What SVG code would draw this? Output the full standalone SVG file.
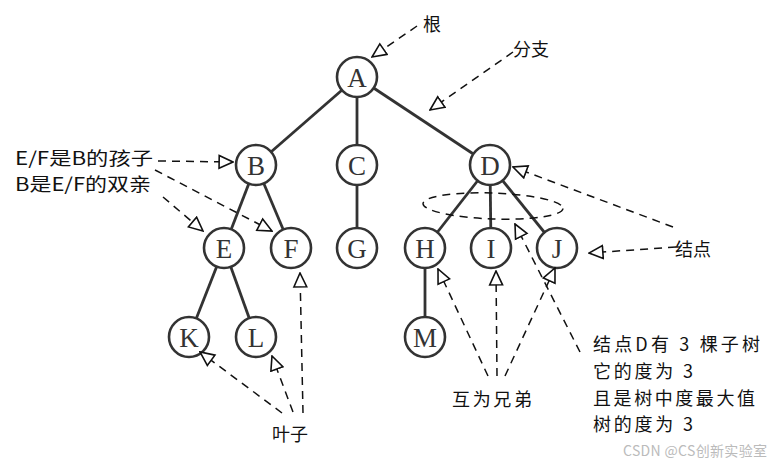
<svg xmlns="http://www.w3.org/2000/svg" width="775" height="463" viewBox="0 0 775 463">
<style>
.edge{stroke:#333;stroke-width:2.8;fill:none}
.node circle{fill:#fff;stroke:#333;stroke-width:2.6}
.node text{font-family:"Liberation Serif","DejaVu Serif",serif;font-size:27px;fill:#333;text-anchor:middle;dominant-baseline:central}
.dash{stroke:#111;stroke-width:1.5;stroke-dasharray:8 6;fill:none;marker-end:url(#tri)}
.lbl{font-family:"Noto Sans CJK SC","Noto Sans",sans-serif;font-size:18px;fill:#111;dominant-baseline:central}
.wm{font-family:"Noto Sans CJK SC","Noto Sans",sans-serif;font-size:14px;fill:#bbb;dominant-baseline:central}
</style>
<defs>
<marker id="tri" markerUnits="userSpaceOnUse" markerWidth="16" markerHeight="16" refX="13" refY="6" orient="auto" viewBox="-1 -1 15 14">
<path d="M0,0 L13,6 L0,12 Z" fill="#fff" stroke="#111" stroke-width="1.5" stroke-linejoin="miter"/>
</marker>
</defs>
<rect width="775" height="463" fill="#fff"/>
<g id="edges">
<line class="edge" x1="357" y1="77" x2="256" y2="165"/>
<line class="edge" x1="357" y1="77" x2="357" y2="165"/>
<line class="edge" x1="357" y1="77" x2="490" y2="165"/>
<line class="edge" x1="256" y1="165" x2="224" y2="248"/>
<line class="edge" x1="256" y1="165" x2="291" y2="248"/>
<line class="edge" x1="357" y1="165" x2="357" y2="248"/>
<line class="edge" x1="490" y1="165" x2="425" y2="248"/>
<line class="edge" x1="490" y1="165" x2="491" y2="248"/>
<line class="edge" x1="490" y1="165" x2="557" y2="248"/>
<line class="edge" x1="224" y1="248" x2="189" y2="337"/>
<line class="edge" x1="224" y1="248" x2="256" y2="337"/>
<line class="edge" x1="425" y1="248" x2="425" y2="337"/>
</g>
<g id="node-A" class="node"><circle cx="357" cy="77" r="20"/><text x="357" y="78">A</text></g>
<g id="node-B" class="node"><circle cx="256" cy="165" r="20"/><text x="256" y="166">B</text></g>
<g id="node-C" class="node"><circle cx="357" cy="165" r="20"/><text x="357" y="166">C</text></g>
<g id="node-D" class="node"><circle cx="490" cy="165" r="20"/><text x="490" y="166">D</text></g>
<g id="node-E" class="node"><circle cx="224" cy="248" r="20"/><text x="224" y="249">E</text></g>
<g id="node-F" class="node"><circle cx="291" cy="248" r="20"/><text x="291" y="249">F</text></g>
<g id="node-G" class="node"><circle cx="357" cy="248" r="20"/><text x="357" y="249">G</text></g>
<g id="node-H" class="node"><circle cx="425" cy="248" r="20"/><text x="425" y="249">H</text></g>
<g id="node-I" class="node"><circle cx="491" cy="248" r="20"/><text x="491" y="249">I</text></g>
<g id="node-J" class="node"><circle cx="557" cy="248" r="20"/><text x="557" y="249">J</text></g>
<g id="node-K" class="node"><circle cx="189" cy="337" r="20"/><text x="189" y="338">K</text></g>
<g id="node-L" class="node"><circle cx="256" cy="337" r="20"/><text x="256" y="338">L</text></g>
<g id="node-M" class="node"><circle cx="425" cy="337" r="20"/><text x="425" y="338">M</text></g>
<g id="annotations">
<ellipse cx="493" cy="206" rx="70" ry="13" fill="none" stroke="#111" stroke-width="1.5" stroke-dasharray="8 6" transform="rotate(2 493 206)"/>
<line class="dash" x1="417" y1="26" x2="372" y2="57"/>
<line class="dash" x1="513" y1="52" x2="430" y2="110"/>
<line class="dash" x1="158" y1="161" x2="233" y2="162"/>
<line class="dash" x1="163" y1="197" x2="203" y2="231"/>
<line class="dash" x1="155" y1="170" x2="272" y2="231"/>
<line class="dash" x1="673" y1="227" x2="513" y2="167"/>
<line class="dash" x1="676" y1="247" x2="589" y2="253"/>
<line class="dash" x1="488" y1="376" x2="438" y2="269"/>
<line class="dash" x1="497" y1="376" x2="496" y2="271"/>
<line class="dash" x1="505" y1="376" x2="555" y2="268"/>
<line class="dash" x1="580" y1="352" x2="515" y2="224"/>
<line class="dash" x1="282" y1="413" x2="200" y2="352"/>
<line class="dash" x1="293" y1="412" x2="272" y2="356"/>
<line class="dash" x1="303" y1="413" x2="300" y2="273"/>
</g>
<g id="labels">
<text class="lbl" x="423" y="23">根</text>
<text class="lbl" x="513" y="48">分支</text>
<text class="lbl" x="15" y="157" textLength="138" lengthAdjust="spacingAndGlyphs">E/F是B的孩子</text>
<text class="lbl" x="15" y="183" textLength="136" lengthAdjust="spacingAndGlyphs">B是E/F的双亲</text>
<text class="lbl" x="675" y="248">结点</text>
<text class="lbl" x="452" y="398" textLength="80">互为兄弟</text>
<text class="lbl" x="593" y="343" textLength="167">结点D有 3 棵子树</text>
<text class="lbl" x="593" y="370" textLength="100">它的度为 3</text>
<text class="lbl" x="593" y="397" textLength="162">且是树中度最大值</text>
<text class="lbl" x="593" y="423" textLength="100">树的度为 3</text>
<text class="lbl" x="272" y="433">叶子</text>
<text class="wm" x="623" y="450" textLength="144">CSDN @CS创新实验室</text>
</g>
</svg>
